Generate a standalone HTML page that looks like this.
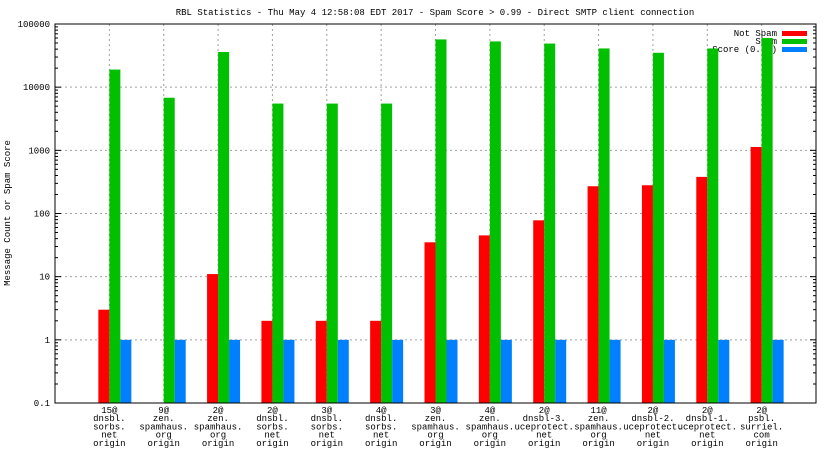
<!DOCTYPE html>
<html><head><meta charset="utf-8"><style>
body{margin:0;background:#fff;}
svg text{font-family:"Liberation Mono","DejaVu Sans Mono",monospace;font-size:9px;fill:#000;}
</style></head><body>
<svg id="chart" width="832" height="468" xmlns="http://www.w3.org/2000/svg"></svg>
<script>
const categories=[["15@","dnsbl.","sorbs.","net","origin"],["9@","zen.","spamhaus.","org","origin"],["2@","zen.","spamhaus.","org","origin"],["2@","dnsbl.","sorbs.","net","origin"],["3@","dnsbl.","sorbs.","net","origin"],["4@","dnsbl.","sorbs.","net","origin"],["3@","zen.","spamhaus.","org","origin"],["4@","zen.","spamhaus.","org","origin"],["2@","dnsbl-3.","uceprotect.","net","origin"],["11@","zen.","spamhaus.","org","origin"],["2@","dnsbl-2.","uceprotect.","net","origin"],["2@","dnsbl-1.","uceprotect.","net","origin"],["2@","psbl.","surriel.","com","origin"]];
const notSpam=[3,0,11,2,2,2,35,45,78,270,280,380,1130];
const spam=[19000,6800,36000,5500,5500,5500,57000,53000,49000,41000,35000,41000,60000];
const score=[1,1,1,1,1,1,1,1,1,1,1,1,1];
const yTicks=[0.1,1,10,100,1000,10000,100000];
const yTickLabels=["0.1","1","10","100","1000","10000","100000"];
const L=55,R=816,T=24,B=403;
const svg=document.getElementById('chart');
const NS='http://www.w3.org/2000/svg';
function el(t,a,p){const e=document.createElementNS(NS,t);for(const k in a)e.setAttribute(k,a[k]);(p||svg).appendChild(e);return e;}
const lmin=Math.log10(0.1),lmax=Math.log10(100000);
function y(v){return B-(Math.log10(v)-lmin)/(lmax-lmin)*(B-T);}
const step=(R-L)/(categories.length+1);
function xc(i){return L+step*(i+1);}
// title
let t=el('text',{x:435,y:15,'text-anchor':'middle'});t.textContent='RBL Statistics - Thu May  4 12:58:08 EDT 2017 - Spam Score > 0.99 - Direct SMTP client connection';


t=el('text',{x:0,y:0,'text-anchor':'middle',transform:'translate(10,213) rotate(-90)'});t.textContent='Message Count or Spam Score';


// grid
yTicks.forEach((v,i)=>{const yy=y(v);
 if(i>0&&i<yTicks.length-1){const g=el('line',{x1:L,x2:R,y1:yy,y2:yy,stroke:'#a0a0a0','stroke-dasharray':'2,3'});}
 el('line',{x1:L,x2:L+6,y1:yy,y2:yy,stroke:'#000'});el('line',{x1:R-6,x2:R,y1:yy,y2:yy,stroke:'#000'});
 const lb=el('text',{x:50,y:yy+3,'text-anchor':'end'});lb.textContent=yTickLabels[i];
 
 
 if(i<yTicks.length-1)for(let m=2;m<10;m++){const my=y(v*m);el('line',{x1:L,x2:L+3,y1:my,y2:my,stroke:'#000'});el('line',{x1:R-3,x2:R,y1:my,y2:my,stroke:'#000'});}
});
categories.forEach((c,i)=>{const x=xc(i);
 const g=el('line',{x1:x,x2:x,y1:T,y2:B,stroke:'#a0a0a0','stroke-dasharray':'2,3'});
 c.forEach((s,j)=>{const lb=el('text',{x:x,y:413+j*8.2,'text-anchor':'middle'});lb.textContent=s;});
});
// legend
const leg=[['Not Spam','#ff0000'],['Spam','#00c000'],['Score (0..1)','#0080ff']];
leg.forEach((l,i)=>{const yy=33+i*8;
 const lt=el('text',{x:777,y:yy+3,'text-anchor':'end'});lt.textContent=l[0];
 
 
 const r=el('rect',{x:782,y:yy-2,width:25,height:5,fill:l[1]});
 
 
});
// bars
const bw=11;
const series=[[notSpam,'#ff0000',-1,'bar-not-spam'],[spam,'#00c000',0,'bar-spam'],[score,'#0080ff',1,'bar-score']];
series.forEach(s=>{s[0].forEach((v,i)=>{if(v<=0)return;const x=xc(i)+s[2]*bw;const yy=y(v);
 const r=el('rect',{x:x,y:yy,width:bw,height:B-yy,fill:s[1]});
 
 
});});
// frame
const f=el('rect',{x:L,y:T,width:R-L,height:B-T,fill:'none',stroke:'#000','stroke-width':1});


</script>
</body></html>
